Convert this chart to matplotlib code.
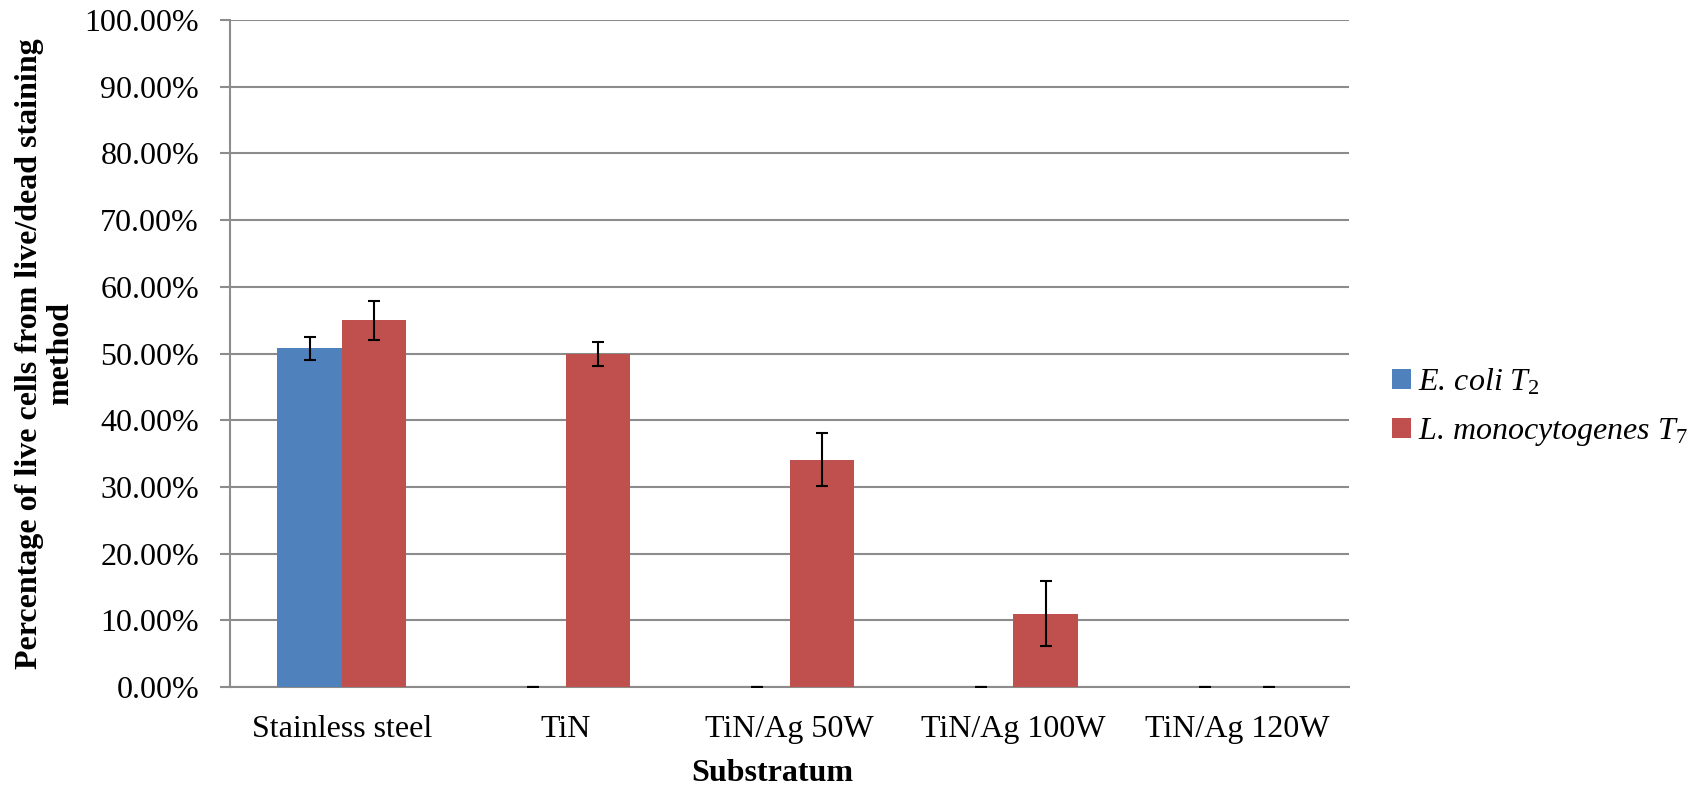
import matplotlib
matplotlib.use("Agg")
import matplotlib.pyplot as plt
import numpy as np

# Data
substrata = ["Stainless steel", "TiN", "TiN/Ag 50W", "TiN/Ag 100W", "TiN/Ag 120W"]
ecoli_live = [0.508, 0.0, 0.0, 0.0, 0.0]
ecoli_err = [0.017, 0.0, 0.0, 0.0, 0.0]
listeria_live = [0.550, 0.500, 0.341, 0.110, 0.0]
listeria_err = [0.029, 0.018, 0.040, 0.049, 0.0]
series_labels = [r"E. coli $\mathit{T_{2}}$", r"L. monocytogenes $\mathit{T_{7}}$"]
y_ticks = np.arange(0, 1.0001, 0.1)

plt.rcParams["font.family"] = ["Liberation Serif", "DejaVu Serif"]
plt.rcParams["mathtext.fontset"] = "custom"
plt.rcParams["mathtext.rm"] = "Liberation Serif"
plt.rcParams["mathtext.it"] = "Liberation Serif:italic"
plt.rcParams["mathtext.bf"] = "Liberation Serif:bold"

fig = plt.figure(figsize=(16.97, 7.88), dpi=100)
ax = fig.add_axes([0.1355, 0.128, 0.6595, 0.8466])

x = np.arange(len(substrata))
w = 0.288
blue = "#4F81BD"
red = "#C0504D"
ax.bar(x - w / 2, ecoli_live, w, color=blue, zorder=3, label=series_labels[0])
ax.bar(x + w / 2, listeria_live, w, color=red, zorder=3, label=series_labels[1])
err_kw = dict(fmt="none", ecolor="black", elinewidth=1.5, capsize=4.5, capthick=1.5, zorder=4)
ax.errorbar(x - w / 2, ecoli_live, yerr=ecoli_err, **err_kw)
ax.errorbar(x + w / 2, listeria_live, yerr=listeria_err, **err_kw)

ax.set_xlim(-0.5, len(substrata) - 0.5)
ax.set_ylim(0, 1.0)
ax.set_yticks(y_ticks)
ax.set_yticklabels([f"{v * 100:.2f}%" for v in y_ticks])
ax.set_xticks(x)
ax.set_xticklabels(substrata)

ax.yaxis.grid(True, color="#8C8C8C", linewidth=1.5, zorder=0)
ax.set_axisbelow(True)
for s in ["top", "right"]:
    ax.spines[s].set_visible(False)
ax.spines["left"].set_color("#8C8C8C")
ax.spines["left"].set_linewidth(1.5)
ax.spines["bottom"].set_color("#8C8C8C")
ax.spines["bottom"].set_linewidth(1.5)
ax.tick_params(axis="y", length=7.2, width=1.5, color="#8C8C8C", pad=15, labelsize=23)
ax.tick_params(axis="x", length=0, pad=20, labelsize=23)

ax.set_ylabel("Percentage of live cells from live/dead staining\nmethod",
              fontsize=23, fontweight="bold", linespacing=1.1)
ax.yaxis.set_label_coords(-0.1385, 0.5)
ax.set_xlabel("Substratum", fontsize=23, fontweight="bold")
ax.xaxis.set_label_coords(0.485, -0.108)

leg = ax.legend(loc="center left", bbox_to_anchor=(1.0385, 0.419), frameon=False,
                prop={"family": "Liberation Serif", "style": "italic", "size": 23},
                handlelength=0.6, handleheight=0.6, handletextpad=0.2,
                labelspacing=0.6, borderaxespad=0, borderpad=0)

fig.savefig("out.png", dpi=100, facecolor="white")
